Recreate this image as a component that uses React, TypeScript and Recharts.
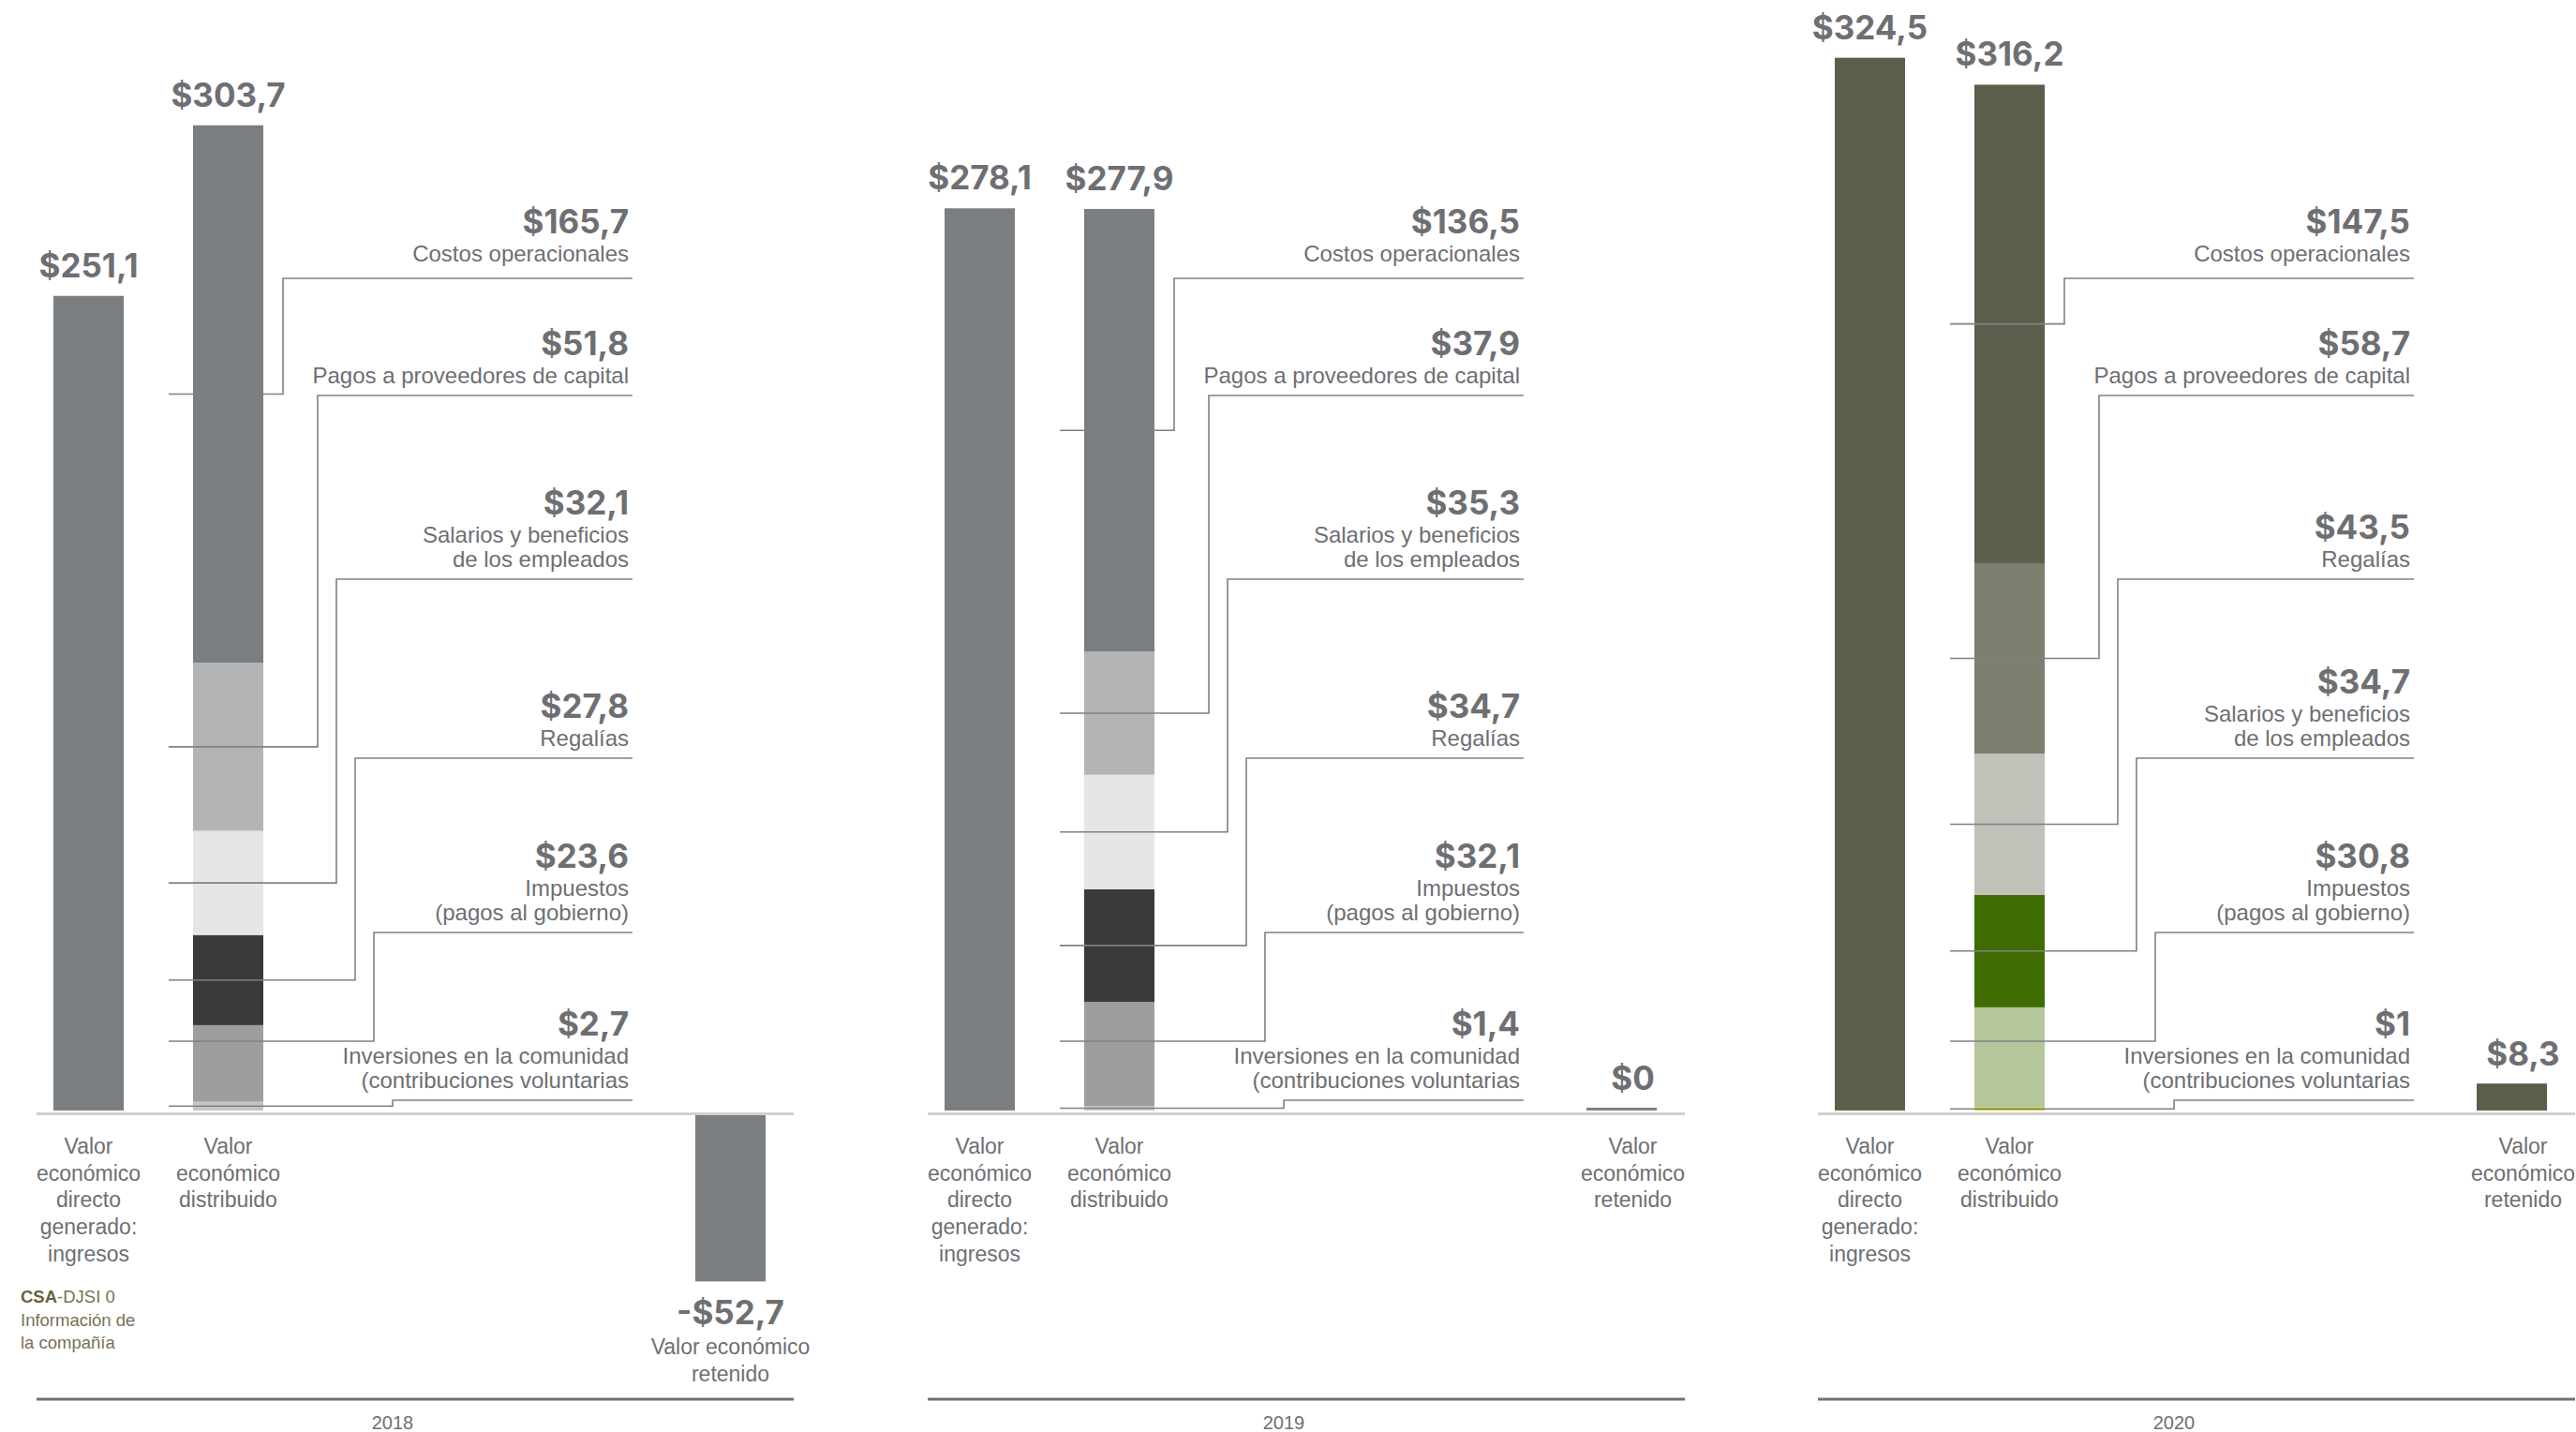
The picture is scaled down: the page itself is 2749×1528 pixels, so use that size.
import React from "react";
import { BarChart, Bar, XAxis, YAxis, ReferenceLine } from "recharts";

// ---------------- DATA ----------------
const years = ["2018", "2019", "2020"];
const ingresosValues = [251.1, 278.1, 324.5];
const distribuidoTotals = [303.7, 277.9, 316.2];
const retenidoValues = [-52.7, 0, 8.3];

const componentNames2018 = [
  ["Costos operacionales"],
  ["Pagos a proveedores de capital"],
  ["Salarios y beneficios", "de los empleados"],
  ["Regalías"],
  ["Impuestos", "(pagos al gobierno)"],
  ["Inversiones en la comunidad", "(contribuciones voluntarias"],
];
const componentValues2018 = [165.7, 51.8, 32.1, 27.8, 23.6, 2.7];

const componentNames2019 = [
  ["Costos operacionales"],
  ["Pagos a proveedores de capital"],
  ["Salarios y beneficios", "de los empleados"],
  ["Regalías"],
  ["Impuestos", "(pagos al gobierno)"],
  ["Inversiones en la comunidad", "(contribuciones voluntarias"],
];
const componentValues2019 = [136.5, 37.9, 35.3, 34.7, 32.1, 1.4];

const componentNames2020 = [
  ["Costos operacionales"],
  ["Pagos a proveedores de capital"],
  ["Regalías"],
  ["Salarios y beneficios", "de los empleados"],
  ["Impuestos", "(pagos al gobierno)"],
  ["Inversiones en la comunidad", "(contribuciones voluntarias"],
];
const componentValues2020 = [147.5, 58.7, 43.5, 34.7, 30.8, 1];

const labelGenerado = ["Valor", "económico", "directo", "generado:", "ingresos"];
const labelDistribuido = ["Valor", "económico", "distribuido"];
const labelRetenido = ["Valor", "económico", "retenido"];
const labelRetenidoNegativo = ["Valor económico", "retenido"];

const componentNames = [componentNames2018, componentNames2019, componentNames2020];
const componentValues = [componentValues2018, componentValues2019, componentValues2020];

// ---------------- STYLE / LAYOUT ----------------
const FONT = "'Liberation Sans', Arial, Helvetica, sans-serif";
const VALUE_FONT = "Inter, 'Liberation Sans', Arial, sans-serif";
const TEXT = "#6e6f72";
const LINE = "#808183";
const grayPalette = ["#7b7e81", "#b3b4b5", "#e6e6e6", "#3a3a3a", "#9e9e9e", "#c4c4c4"];
const olivePalette = ["#5a5e4a", "#7c7e6e", "#c0c1b8", "#3f6c00", "#b5c69b", "#d9d200"];
const palettes = [grayPalette, grayPalette, olivePalette];
const mainColors = ["#7b7e81", "#7b7e81", "#5a5e4a"];

const PANEL_STEP = 950.5;
const CHART_TOP = 8;
const PLOT_H = 1485;
const DOMAIN: [number, number] = [-89, 340];
const LABEL_LINE_Y = [297, 422, 618, 809, 995, 1174];
const LABEL_GAP = [18, 13, 13, 13, 13, 13];
const ELBOW_OFFSETS = [21, 58, 78, 98, 118, 138];
const VALUE_SIZE = 35;
const DESC_SIZE = 24;
const CAT_SIZE = 23;

const fmt = (v: number) => (v < 0 ? "-" : "") + "$" + String(Math.abs(v)).replace(".", ",");

function box(p: any) {
  const y = Number(p.y);
  const h = Number(p.height) || 0;
  return { x: Number(p.x), w: Number(p.width), top: Math.min(y, y + h), bottom: Math.max(y, y + h) };
}

function ValueText({ x, y, value, anchor = "middle" }: any) {
  return (
    <text x={x} y={y} textAnchor={anchor} fontSize={VALUE_SIZE} fontWeight={700} fill={TEXT} fontFamily={VALUE_FONT}>
      {fmt(value)}
    </text>
  );
}

function CategoryLabel({ cx, base, lines }: any) {
  return (
    <g>
      {lines.map((l: string, j: number) => (
        <text key={j} x={cx} y={base + j * 28.7} textAnchor="middle" fontSize={CAT_SIZE} fill={TEXT} fontFamily={FONT}>
          {l}
        </text>
      ))}
    </g>
  );
}

function MainChart({ i }: { i: number }) {
  const names = componentNames[i];
  const values = componentValues[i];
  const palette = palettes[i];
  const last = values.length - 1;
  const distRow: any = { cat: "distribuido", total: distribuidoTotals[i], lines: labelDistribuido };
  values.forEach((v, k) => (distRow["s" + k] = v));
  const data: any[] = [{ cat: "generado", ingresos: ingresosValues[i], lines: labelGenerado }, distRow];

  const ingresosShape = (p: any) => {
    const row = p.payload ?? p;
    if (row == null || row.ingresos == null) return <g />;
    const b = box(p);
    const cx = b.x + b.w / 2;
    return (
      <g>
        <rect x={b.x} y={b.top} width={b.w} height={b.bottom - b.top} fill={mainColors[i]} />
        <ValueText x={cx} y={b.top - 20} value={row.ingresos} />
        <CategoryLabel cx={cx} base={b.bottom + 46} lines={row.lines} />
      </g>
    );
  };

  const blockFirstBase = (k: number) =>
    LABEL_LINE_Y[k] - CHART_TOP - LABEL_GAP[k] - (names[k].length - 1) * 26;

  const segShape = (k: number) => (p: any) => {
    const row = p.payload ?? p;
    const v = row ? row["s" + k] : null;
    if (v == null) return <g />;
    const b = box(p);
    const right = b.x + b.w;
    const cx = b.x + b.w / 2;
    let attachY = (b.top + b.bottom) / 2;
    // keep the last elbowed leader clear of the final label block
    if (k === last - 1) attachY = Math.min(attachY, blockFirstBase(last) - 24);
    const lineY = LABEL_LINE_Y[k] - CHART_TOP;
    const elbowX = right + ELBOW_OFFSETS[k];
    const labelRight = right + 390;
    const lineEnd = right + 394;
    const desc = names[k];
    const firstBase = blockFirstBase(k);
    return (
      <g>
        <rect x={b.x} y={b.top} width={b.w} height={b.bottom - b.top} fill={palette[k]} />
        <path
          d={`M${b.x - 26},${attachY}H${elbowX}V${lineY}H${lineEnd}`}
          fill="none"
          stroke={LINE}
          strokeWidth={1.6}
        />
        <ValueText x={labelRight} y={firstBase - 30} value={v} anchor="end" />
        {desc.map((d, j) => (
          <text key={j} x={labelRight} y={firstBase + j * 26} textAnchor="end" fontSize={DESC_SIZE} fill={TEXT} fontFamily={FONT}>
            {d}
          </text>
        ))}
        {k === 0 && <ValueText x={cx} y={b.top - 20} value={row.total} />}
        {k === last && <CategoryLabel cx={cx} base={b.bottom + 46} lines={row.lines} />}
      </g>
    );
  };

  const order = [5, 4, 3, 2, 1, 0];
  return (
    <BarChart width={700} height={PLOT_H} data={data} margin={{ top: 0, right: 402, bottom: 0, left: 0 }} barSize={75}>
      <XAxis dataKey="cat" hide />
      <YAxis hide domain={DOMAIN} type="number" />
      <Bar dataKey="ingresos" stackId="v" fill={mainColors[i]} shape={ingresosShape} isAnimationActive={false} />
      {order.map((k) => (
        <Bar key={k} dataKey={"s" + k} stackId="v" fill={palette[k]} shape={segShape(k)} isAnimationActive={false} />
      ))}
    </BarChart>
  );
}

function RetainedChart({ i }: { i: number }) {
  const v = retenidoValues[i];
  const data = [{ cat: "retenido", retenido: v, lines: v < 0 ? labelRetenidoNegativo : labelRetenido }];
  const retShape = (p: any) => {
    const row = p.payload ?? p;
    const b = box(p);
    const cx = b.x + b.w / 2;
    let top = b.top;
    const bottom = b.bottom;
    if (row.retenido >= 0) {
      if (bottom - top < 3) top = bottom - 3;
      return (
        <g>
          <rect x={b.x} y={top} width={b.w} height={bottom - top} fill={mainColors[i]} />
          <ValueText x={cx + 12} y={top - 19} value={row.retenido} />
          <CategoryLabel cx={cx + 12} base={bottom + 46} lines={row.lines} />
        </g>
      );
    }
    return (
      <g>
        <rect x={b.x} y={top + 5} width={b.w} height={bottom - top - 5} fill={mainColors[i]} />
        <ValueText x={cx} y={bottom + 46} value={row.retenido} />
        <CategoryLabel cx={cx} base={bottom + 78} lines={row.lines} />
      </g>
    );
  };
  return (
    <BarChart width={808} height={PLOT_H + 40} data={data} margin={{ top: 0, right: 0, bottom: 0, left: 0 }} barSize={75}>
      <XAxis
        dataKey="cat"
        height={40}
        tick={false}
        tickLine={false}
        axisLine={{ stroke: "#707070", strokeWidth: 3 }}
        padding={{ left: 673, right: 0 }}
        label={{ value: years[i], position: "center", dx: -24, dy: 5, fill: TEXT, fontSize: 20, fontFamily: FONT }}
      />
      <YAxis hide domain={DOMAIN} type="number" />
      <ReferenceLine
        y={0}
        shape={(lp: any) => (
          <line x1={lp.x1} x2={lp.x2} y1={Number(lp.y1) + 3.5} y2={Number(lp.y2) + 3.5} stroke="#d0d0d0" strokeWidth={3} />
        )}
      />
      <Bar dataKey="retenido" fill={mainColors[i]} shape={retShape} isAnimationActive={false} />
    </BarChart>
  );
}

export default function App() {
  return (
    <div style={{ position: "absolute", left: 0, top: 0, width: 2749, height: 1528, fontFamily: FONT, background: "#fff" }}>
      <style>{`.recharts-surface{overflow:visible}`}</style>
      {years.map((y, i) => (
        <React.Fragment key={y}>
          <div style={{ position: "absolute", left: 39 + i * PANEL_STEP, top: CHART_TOP }}>
            <RetainedChart i={i} />
          </div>
          <div style={{ position: "absolute", left: 20 + i * PANEL_STEP, top: CHART_TOP }}>
            <MainChart i={i} />
          </div>
        </React.Fragment>
      ))}
      <div
        style={{
          position: "absolute",
          left: 22,
          top: 1372,
          fontSize: 18.5,
          lineHeight: "24.5px",
          color: "#7a6f55",
          fontFamily: FONT,
        }}
      >
        <div>
          <span style={{ fontWeight: 700, color: "#6b5f42" }}>CSA</span>-DJSI 0
        </div>
        <div>Información de</div>
        <div>la compañía</div>
      </div>
    </div>
  );
}
